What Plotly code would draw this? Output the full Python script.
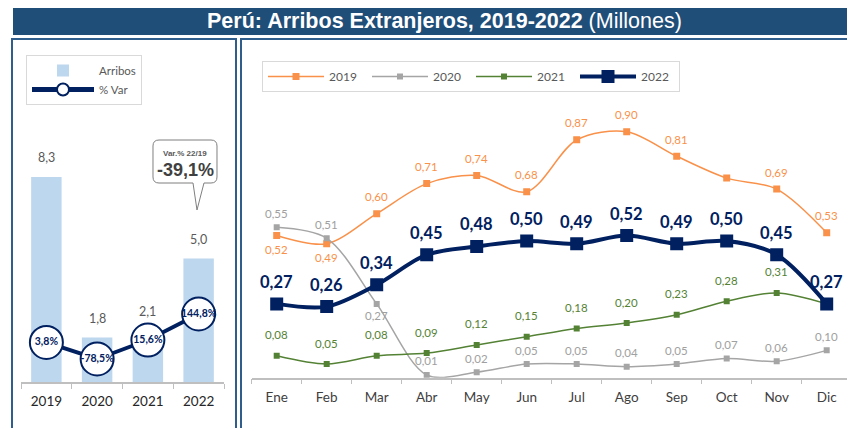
import plotly.graph_objects as go

# ---- data ----
years = ["2019", "2020", "2021", "2022"]
arribos = [8.3, 1.8, 2.1, 5.0]
var_pct = [3.8, -78.5, 15.6, 144.8]

months = ["Ene", "Feb", "Mar", "Abr", "May", "Jun", "Jul", "Ago", "Sep", "Oct", "Nov", "Dic"]
s2019 = [0.52, 0.49, 0.60, 0.71, 0.74, 0.68, 0.87, 0.90, 0.81, 0.73, 0.69, 0.53]
s2020 = [0.55, 0.51, 0.27, 0.01, 0.02, 0.05, 0.05, 0.04, 0.05, 0.07, 0.06, 0.10]
s2021 = [0.08, 0.05, 0.08, 0.09, 0.12, 0.15, 0.18, 0.20, 0.23, 0.28, 0.31, 0.27]
s2022 = [0.27, 0.26, 0.34, 0.45, 0.48, 0.50, 0.49, 0.52, 0.49, 0.50, 0.45, 0.27]

# where each data label sits (None = no label shown)
pos2019 = ["below", "below"] + ["above"] * 7 + [None] + ["above"] * 2
pos2020 = ["above", "above", "below"] + ["above"] * 9
pos2021 = ["above"] * 11 + [None]
pos2022 = ["above"] * 12

# the page body keeps its default 8px margin, so the figure is sized to what is left
OFF = 8
W, H = 855 - OFF, 428 - OFF
FONT = "Lato, Calibri, 'Open Sans', sans-serif"
NAVY = "#002060"
BORDER = "#2F5D8C"


def px(x):
    return (x - OFF) / W


def py(y):
    return 1 - (y - OFF) / H


def fmt(v, d=2):
    return f"{v:.{d}f}".replace(".", ",")


fig = go.Figure()

# ---- left panel: annual arrivals + % var ----
fig.add_trace(go.Bar(
    x=years, y=arribos, name="Arribos", width=0.6,
    marker=dict(color="#BDD7EE", line=dict(width=0)),
    xaxis="x", yaxis="y", legend="legend",
))
fig.add_trace(go.Scatter(
    x=years, y=var_pct, name="% Var", mode="lines+markers+text",
    line=dict(color=NAVY, width=4),
    marker=dict(symbol="circle", size=33, color="white", line=dict(color=NAVY, width=2)),
    text=[fmt(v, 1) + "%" for v in var_pct], textposition="middle center",
    textfont=dict(family=FONT, size=10.5, color=NAVY, weight="bold"),
    xaxis="x", yaxis="y2", legend="legend",
))

# ---- right panel: monthly series ----
series = [
    ("2019", s2019, pos2019, "#F9914A", 1.5, 7, dict(size=11.5, color="#F9914A"), 17, -14),
    ("2020", s2020, pos2020, "#A5A5A5", 1.5, 6, dict(size=11.5, color="#A0A0A0"), 14, -12),
    ("2021", s2021, pos2021, "#548235", 1.5, 6, dict(size=11.5, color="#548235"), 21, -14),
    ("2022", s2022, pos2022, NAVY, 4, 13, dict(size=16.5, color=NAVY, weight="bold"), 22, -16),
]
annotations = []
for name, vals, pos, col, lw, ms, tf, up, down in series:
    fig.add_trace(go.Scatter(
        x=months, y=vals, name=name, mode="lines+markers",
        line=dict(color=col, width=lw, shape="spline", smoothing=0.9),
        marker=dict(symbol="square", size=ms, color=col),
        xaxis="x2", yaxis="y3", legend="legend2",
    ))
    for i, (v, p) in enumerate(zip(vals, pos)):
        if p is None:
            continue
        annotations.append(dict(
            x=i, y=v, xref="x2", yref="y3", text=fmt(v), showarrow=False,
            yshift=up if p == "above" else down,
            font=dict(family=FONT, **tf),
        ))

# bar value labels (index positions: the year strings would be read as numbers)
for i, v in enumerate(arribos):
    annotations.append(dict(
        x=i, y=v, xref="x", yref="y", text=fmt(v, 1), showarrow=False, yshift=19,
        font=dict(family=FONT, size=12.5, color="#595959"),
    ))

# title
annotations.append(dict(
    x=px(444), y=py(21), xref="paper", yref="paper", showarrow=False,
    xanchor="center", yanchor="middle",
    text="<b>Perú: Arribos Extranjeros, 2019-2022</b> (Millones)",
    font=dict(family="'Liberation Sans Narrow', 'Arial Narrow', 'Liberation Sans', sans-serif",
              size=21.5, color="white"),
))
# callout text
annotations.append(dict(
    x=px(185), y=py(153), xref="paper", yref="paper", showarrow=False,
    xanchor="center", yanchor="middle", text="<b>Var.% 22/19</b>",
    font=dict(family="'Liberation Sans', Arial, sans-serif", size=8, color="#595959"),
))
annotations.append(dict(
    x=px(185), y=py(170), xref="paper", yref="paper", showarrow=False,
    xanchor="center", yanchor="middle", text="<b>-39,1%</b>",
    font=dict(family="'Liberation Sans', Arial, sans-serif", size=18, color="#404040"),
))

# callout bubble path
x0, x1, y0, y1, r = 153, 217, 140, 183, 6
pts = [
    ("M", x0 + r, y0), ("L", x1 - r, y0), ("Q", x1, y0, x1, y0 + r), ("L", x1, y1 - r),
    ("Q", x1, y1, x1 - r, y1), ("L", 204, y1), ("L", 197, 210), ("L", 193, y1),
    ("L", x0 + r, y1), ("Q", x0, y1, x0, y1 - r), ("L", x0, y0 + r), ("Q", x0, y0, x0 + r, y0),
]
path = ""
for p in pts:
    cmd, coords = p[0], p[1:]
    pairs = [f"{px(coords[i]):.5f},{py(coords[i + 1]):.5f}" for i in range(0, len(coords), 2)]
    path += cmd + " ".join(pairs) + " "
path += "Z"

shapes = [
    dict(type="rect", xref="paper", yref="paper", x0=px(13), x1=1.0, y0=py(35), y1=py(7),
         fillcolor="#1F4E79", line=dict(width=0), layer="below"),
    dict(type="rect", xref="paper", yref="paper", x0=px(12), x1=px(236), y0=py(445), y1=py(39),
         line=dict(color=BORDER, width=2), layer="below"),
    dict(type="rect", xref="paper", yref="paper", x0=px(241), x1=px(870), y0=py(445), y1=py(39),
         line=dict(color=BORDER, width=2), layer="below"),
    dict(type="path", xref="paper", yref="paper", path=path,
         line=dict(color="#7F7F7F", width=1), fillcolor="white"),
]

xaxis_style = dict(
    type="category", showline=True, linecolor="#BFBFBF", linewidth=1.5,
    ticks="outside", tickson="boundaries", ticklen=5, tickcolor="#BFBFBF",
    showgrid=False, zeroline=False, fixedrange=True, ticklabelstandoff=6,
)

fig.update_layout(
    width=W, height=H,
    margin=dict(l=0, r=0, t=0, b=0),
    paper_bgcolor="white", plot_bgcolor="rgba(0,0,0,0)",
    font=dict(family=FONT),
    separators=",.",
    showlegend=True,
    xaxis=dict(domain=[px(21), px(224)], anchor="y", range=[-0.5, 3.5],
               tickfont=dict(family=FONT, size=13.5, color="#262626"), **xaxis_style),
    yaxis=dict(domain=[py(382), py(135)], range=[0, 10], visible=False),
    yaxis2=dict(overlaying="y", range=[-192.6, 1033], visible=False),
    xaxis2=dict(domain=[px(251.7), px(851.7)], anchor="y3", range=[-0.5, 11.5],
                tickfont=dict(family=FONT, size=13.5, color="#404040"), **xaxis_style),
    yaxis3=dict(domain=[py(377.7), py(104.3)], range=[0, 1.0], visible=False, anchor="x2"),
    legend=dict(x=px(26), y=py(55), xanchor="left", yanchor="top",
                bordercolor="#D9D9D9", borderwidth=1, bgcolor="white",
                font=dict(family=FONT, size=11.5, color="#595959"),
                itemwidth=62, itemsizing="constant", tracegroupgap=0),
    legend2=dict(x=px(262), y=py(61), xanchor="left", yanchor="top", orientation="h",
                 bordercolor="#D9D9D9", borderwidth=1, bgcolor="white",
                 font=dict(family=FONT, size=12, color="#595959"),
                 itemwidth=56, entrywidth=33),
    annotations=annotations,
    shapes=shapes,
)

fig.write_html("out.html")
